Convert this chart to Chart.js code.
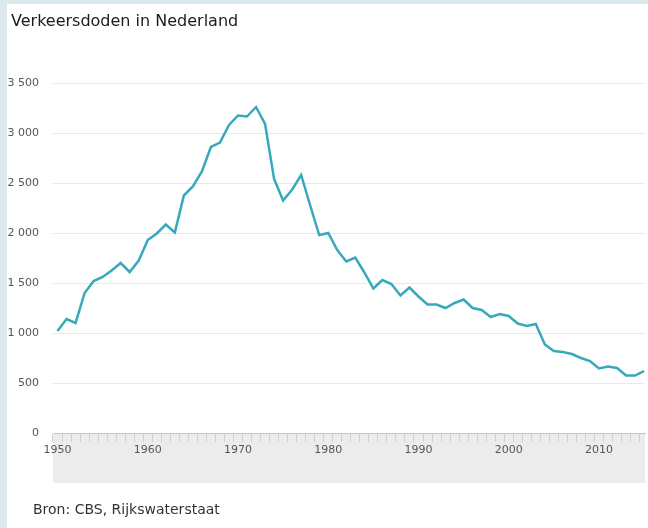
<!DOCTYPE html>
<html>
<head>
<meta charset="utf-8">
<script src="https://cdn.jsdelivr.net/npm/chart.js@4"></script>
<style>
  body { margin: 0; background: #fff; }
  #wrap { position: relative; width: 648px; height: 528px; overflow: hidden; background: #fff; }
  #stripeLeft { position: absolute; left: 0; top: 0; width: 7px; height: 528px; background: #dce9ec; }
  #stripeTop { position: absolute; left: 0; top: 0; width: 648px; height: 4px; background: #dce9ec; }
  #title { position: absolute; left: 11px; top: 11px; font: 16px "DejaVu Sans", sans-serif; color: #1c1c1c; }
  #source { position: absolute; left: 33px; top: 501px; font: 14px "DejaVu Sans", sans-serif; color: #333; }
  canvas { position: absolute; left: 0; top: 0; }
</style>
</head>
<body>
<div id="wrap">
  <canvas id="myChart" width="648" height="528"></canvas>
  <div id="stripeLeft"></div>
  <div id="stripeTop"></div>
  <div id="title">Verkeersdoden in Nederland</div>
  <div id="source">Bron: CBS, Rijkswaterstaat</div>
</div>
<script>
const years = [
  1950, 1951, 1952, 1953, 1954, 1955, 1956, 1957, 1958, 1959,
  1960, 1961, 1962, 1963, 1964, 1965, 1966, 1967, 1968, 1969,
  1970, 1971, 1972, 1973, 1974, 1975, 1976, 1977, 1978, 1979,
  1980, 1981, 1982, 1983, 1984, 1985, 1986, 1987, 1988, 1989,
  1990, 1991, 1992, 1993, 1994, 1995, 1996, 1997, 1998, 1999,
  2000, 2001, 2002, 2003, 2004, 2005, 2006, 2007, 2008, 2009,
  2010, 2011, 2012, 2013, 2014, 2015,
];

const deaths = [
  1021, 1140, 1100, 1400, 1520, 1560, 1625, 1700, 1610, 1725,
  1930, 1995, 2085, 2005, 2375, 2465, 2615, 2860, 2905, 3080,
  3175, 3165, 3260, 3090, 2540, 2325, 2435, 2580, 2275, 1980,
  2000, 1830, 1715, 1755, 1605, 1445, 1530, 1490, 1375, 1455,
  1365, 1285, 1285, 1250, 1300, 1335, 1250, 1230, 1160, 1190,
  1170, 1095, 1070, 1090, 885, 820, 810, 790, 750, 720,
  645, 665, 650, 575, 575, 620,
];

const yTicks = [0, 500, 1000, 1500, 2000, 2500, 3000, 3500];
const xLabelYears = [1950, 1960, 1970, 1980, 1990, 2000, 2010];

function formatNumber(v) {
  return String(v).replace(/\B(?=(\d{3})+(?!\d))/g, " ");
}

// grey band under the x axis
const axisBand = {
  id: "axisBand",
  beforeDraw: (chart) => {
    const { ctx, chartArea } = chart;
    ctx.save();
    ctx.fillStyle = "#ececec";
    ctx.fillRect(chartArea.left, chartArea.bottom, chartArea.right - chartArea.left, 50);
    ctx.restore();
  },
};

const ctx = document.getElementById("myChart");

new Chart(ctx, {
  type: "line",
  data: {
    datasets: [
      {
        label: "Verkeersdoden",
        data: years.map((y, i) => ({ x: y, y: deaths[i] })),
        borderColor: "#37a9bb",
        borderWidth: 2.5,
        pointRadius: 0,
        tension: 0,
      },
    ],
  },
  options: {
    responsive: false,
    animation: false,
    layout: { padding: { top: 83, left: 0, right: 3, bottom: 45 } },
    plugins: { legend: { display: false }, tooltip: { enabled: false } },
    scales: {
      x: {
        type: "linear",
        min: 1949.5,
        max: 2015.1,
        afterFit: (scale) => { scale.height = 50; },
        afterBuildTicks: (scale) => { scale.ticks = years.map((v) => ({ value: v })); },
        grid: {
          offset: true,
          drawOnChartArea: false,
          drawTicks: true,
          tickLength: 9,
          tickColor: "#d2d2d2",
          color: "#d2d2d2",
        },
        border: { display: true, color: "#c4c4c4", width: 1 },
        ticks: {
          autoSkip: false,
          maxRotation: 0,
          padding: 2,
          color: "#555",
          font: { family: "DejaVu Sans", size: 11 },
          callback: (v) => (xLabelYears.includes(v) ? String(v) : ""),
        },
      },
      y: {
        min: 0,
        max: 3500,
        afterFit: (scale) => { scale.width = 53; },
        afterBuildTicks: (scale) => { scale.ticks = yTicks.map((v) => ({ value: v })); },
        grid: { color: "#e8e8e8", drawTicks: false },
        border: { display: false },
        ticks: {
          padding: 14,
          color: "#555",
          font: { family: "DejaVu Sans", size: 11 },
          callback: (v) => formatNumber(v),
        },
      },
    },
  },
  plugins: [axisBand],
});
</script>
</body>
</html>
